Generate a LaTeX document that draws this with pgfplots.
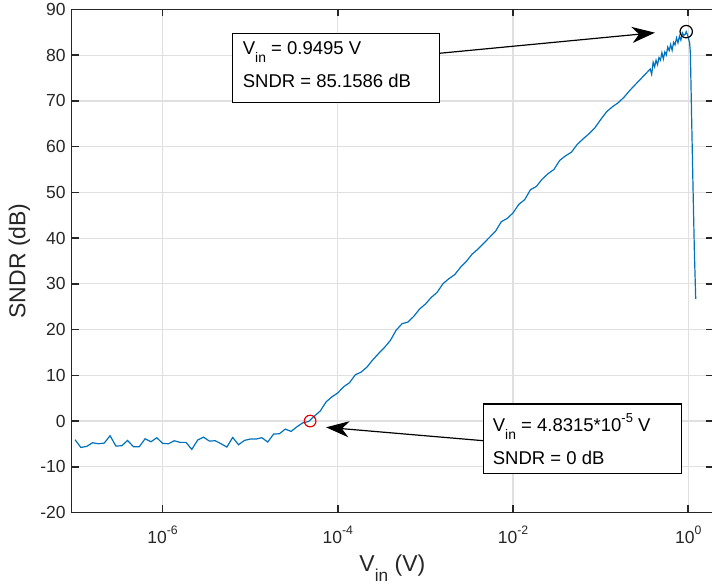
\documentclass[border=0pt]{standalone}
\usepackage{pgfplots}
\usepackage{pgfplotstable}
\pgfplotsset{compat=1.18}
\usepackage{graphicx}
\usepackage{fontspec}
\setmainfont{Liberation Sans}
\usetikzlibrary{arrows.meta}

\definecolor{mblue}{rgb}{0,0.447,0.741}
\definecolor{axgray}{rgb}{0.15,0.15,0.15}

% matlab-like sub/superscripts
\newcommand\sub[1]{\raisebox{-0.43em}{\scalebox{0.75}{#1}}}
\newcommand\sups[1]{\raisebox{0.5em}{\scalebox{0.7}{#1}}}
\newcommand\annfont{\fontsize{18.5bp}{22bp}\selectfont}

% SNDR sweep, Vin in volts
\pgfplotstableread{
v sndr
1.000e-7 -4.09
1.166e-7 -5.77
1.359e-7 -5.55
1.585e-7 -4.75
1.848e-7 -4.96
2.154e-7 -4.82
2.512e-7 -3.21
2.929e-7 -5.47
3.415e-7 -5.40
3.981e-7 -4.24
4.642e-7 -5.62
5.412e-7 -5.62
6.310e-7 -3.87
7.356e-7 -4.53
8.577e-7 -3.65
1.000e-6 -4.89
1.166e-6 -4.96
1.359e-6 -4.31
1.585e-6 -4.67
1.848e-6 -4.67
2.154e-6 -6.20
2.512e-6 -4.16
2.929e-6 -3.51
3.415e-6 -4.38
3.981e-6 -4.31
4.642e-6 -4.96
5.412e-6 -5.69
6.310e-6 -3.58
7.356e-6 -5.18
8.577e-6 -4.24
1.000e-5 -3.94
1.166e-5 -3.94
1.359e-5 -3.65
1.585e-5 -4.60
1.848e-5 -2.85
2.154e-5 -2.78
2.512e-5 -1.76
2.929e-5 -2.27
3.415e-5 -1.25
3.981e-5 -0.40
4.642e-5 -0.10
5.412e-5 1.10
6.310e-5 2.20
7.356e-5 4.20
8.577e-5 5.30
1.000e-4 6.15
1.166e-4 7.50
1.359e-4 8.38
1.585e-4 10.12
1.848e-4 10.71
2.154e-4 11.81
2.512e-4 13.40
2.929e-4 14.79
3.415e-4 16.10
3.981e-4 17.63
4.642e-4 19.89
5.412e-4 21.28
6.310e-4 21.65
7.356e-4 22.88
8.577e-4 24.49
1.000e-3 25.58
1.166e-3 27.03
1.359e-3 28.13
1.585e-3 30.02
1.848e-3 31.12
2.154e-3 31.99
2.512e-3 33.60
2.929e-3 34.90
3.415e-3 36.50
3.981e-3 37.60
4.642e-3 38.90
5.412e-3 40.20
6.310e-3 41.50
7.356e-3 43.60
8.577e-3 44.30
1.000e-2 45.50
1.166e-2 47.40
1.359e-2 48.40
1.585e-2 50.60
1.848e-2 51.30
2.154e-2 52.90
2.512e-2 54.10
2.929e-2 55.00
3.415e-2 57.00
3.981e-2 58.00
4.642e-2 58.80
5.412e-2 60.50
6.310e-2 61.70
7.356e-2 62.80
8.577e-2 64.10
1.000e-1 65.90
1.166e-1 67.60
1.359e-1 68.70
1.585e-1 69.60
1.848e-1 70.80
2.154e-1 72.30
0.2512 73.65
0.2610 73.98
0.2712 74.32
0.2818 74.65
0.2929 74.98
0.3043 75.32
0.3162 75.65
0.3286 75.98
0.3415 76.32
0.3548 76.65
0.3687 76.98
0.3831 75.82
0.3981 78.45
0.4137 77.48
0.4299 78.92
0.4467 77.95
0.4642 79.48
0.4823 78.92
0.5012 80.55
0.5208 79.18
0.5412 80.72
0.5623 80.05
0.5843 81.78
0.6072 81.02
0.6310 82.35
0.6557 81.08
0.6813 82.82
0.7079 82.25
0.7356 83.78
0.7644 82.72
0.7943 84.15
0.8254 83.28
0.8577 84.92
0.8913 84.35
0.9261 84.60
0.9495 85.16
0.9624 84.90
1.0000 84.00
1.0400 82.60
1.0590 80.50
1.0960 65.90
1.1350 51.30
1.1780 36.70
1.2190 26.70
}\sndrdata

\begin{document}
\begin{tikzpicture}
\useasboundingbox (0,0) rectangle (712bp,585bp);
\begin{axis}[
    at={(71.7bp,72.5bp)}, anchor=south west,
    scale only axis,
    width=641.3bp, height=503bp,
    xmode=log,
    xmin=9.16e-8, xmax=1.92,
    ymin=-20, ymax=90,
    xtick={1e-6,1e-4,1e-2,1},
    xticklabels={10\sups{-6},10\sups{-4},10\sups{-2},10\sups{0}},
    xminorticks=false,
    ytick={-20,-10,...,90},
    yticklabels={-20,-10,0,10,20,30,40,50,60,70,80,90},
    tick pos=both,
    tick align=inside,
    major tick length=7bp,
    grid=major,
    major grid style={gray!24, line width=1.2bp},
    axis line style={axgray, line width=1.6bp},
    every tick/.style={axgray, line width=1.6bp},
    tick label style={font=\fontsize{17.5bp}{20bp}\selectfont, text=axgray},
    yticklabel style={xshift=-2.5bp},
    xticklabel style={yshift=-10bp},
    xlabel={V\sub{in} (V)},
    ylabel={SNDR (dB)},
    label style={font=\fontsize{23bp}{26bp}\selectfont, text=axgray},
    xlabel style={at={(axis description cs:0.5,0)}, anchor=base, yshift=-59.2bp},
    ylabel style={at={(axis description cs:0,0.5)}, anchor=base, yshift=46.2bp},
]
\addplot[mblue, line width=1.2bp] table[x=v, y=sndr] {\sndrdata};
\addplot[only marks, mark=o, mark size=6.2bp, black, line width=1.2bp] coordinates {(0.9495,85.1586)};
\addplot[only marks, mark=o, mark size=5.8bp, red!90!black, line width=1.2bp] coordinates {(4.8315e-5,0)};
\end{axis}

% annotation: peak
\draw[line width=1.3bp, fill=white] (232.7bp,482.7bp) rectangle (439.3bp,551.7bp);
\node[anchor=base west, inner sep=0pt, font=\annfont] at (242.7bp,530bp) {V\sub{in} = 0.9495 V};
\node[anchor=base west, inner sep=0pt, font=\annfont] at (242.7bp,497.7bp) {SNDR = 85.1586 dB};
\draw[line width=1.2bp, -{Stealth[length=23bp,width=16bp,inset=7bp]}] (439.3bp,531.7bp) -- (655bp,552.3bp);

% annotation: 0 dB crossing
\draw[line width=1.3bp, fill=white] (483.3bp,111.7bp) rectangle (681.7bp,181bp);
\node[anchor=base west, inner sep=0pt, font=\annfont] at (492.7bp,153.3bp) {V\sub{in} = 4.8315*10\sups{-5} V};
\node[anchor=base west, inner sep=0pt, font=\annfont] at (492.7bp,120bp) {SNDR = 0 dB};
\draw[line width=1.2bp, -{Stealth[length=23bp,width=16bp,inset=7bp]}] (483.3bp,144.3bp) -- (326bp,157.7bp);
\end{tikzpicture}
\end{document}
